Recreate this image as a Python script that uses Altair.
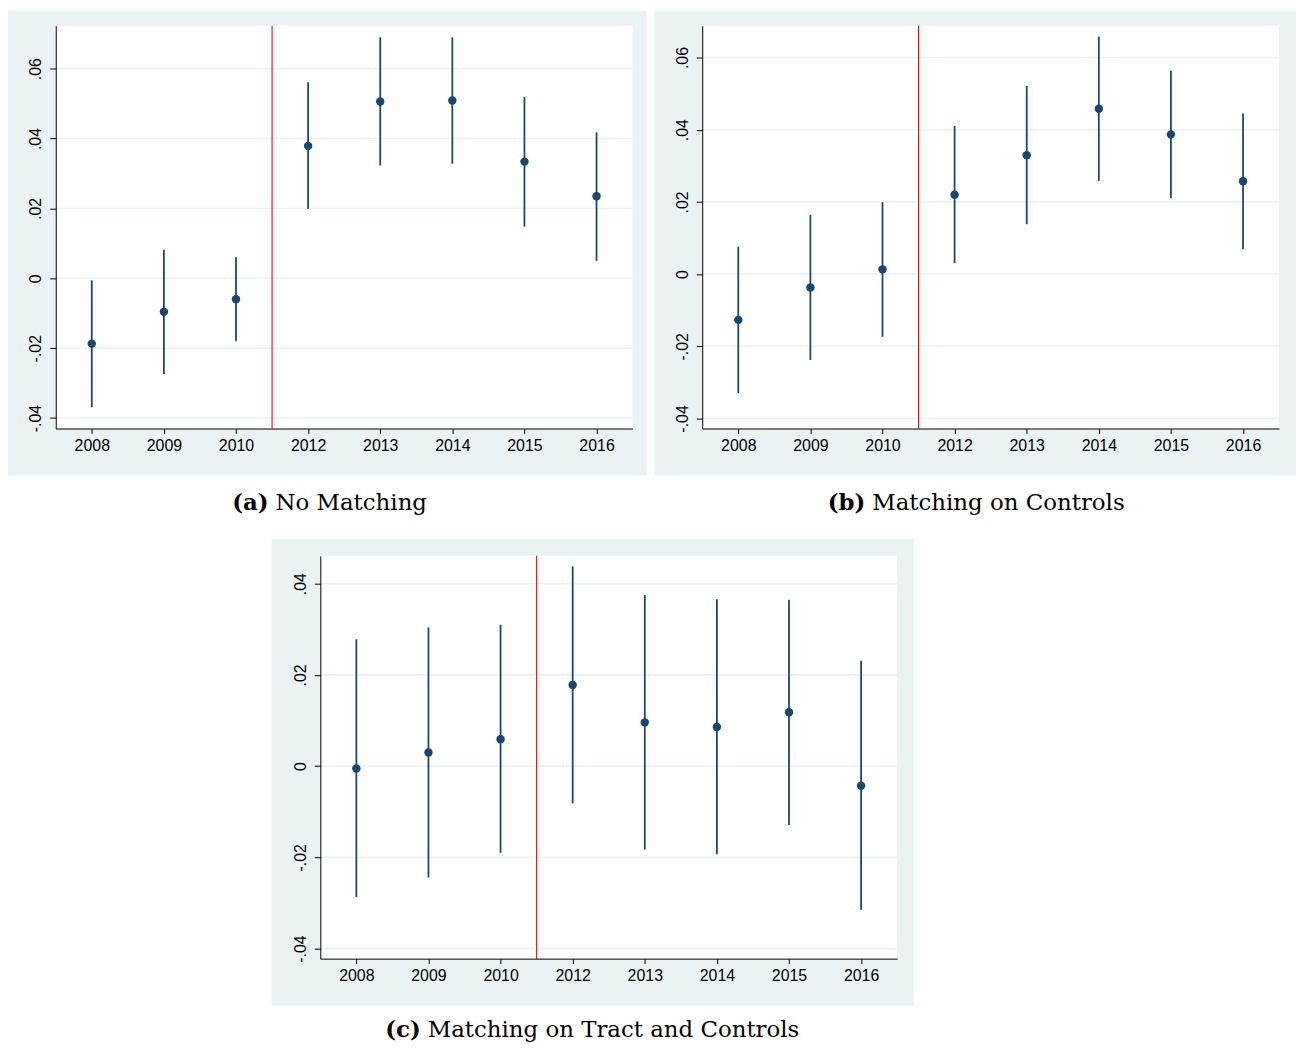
import altair as alt
import pandas as pd

# ---------------- data ----------------
years = ["2008", "2009", "2010", "2012", "2013", "2014", "2015", "2016"]
positions = list(range(1, len(years) + 1))
cutoff = [3.5]  # red reference line between 2010 and 2012

a_est = [-0.0187, -0.0096, -0.0060, 0.0379, 0.0506, 0.0509, 0.0334, 0.0235]
a_lo = [-0.0369, -0.0274, -0.0180, 0.0199, 0.0323, 0.0328, 0.0148, 0.0050]
a_hi = [-0.0006, 0.0082, 0.0060, 0.0561, 0.0690, 0.0690, 0.0519, 0.0418]

b_est = [-0.0127, -0.0037, 0.0013, 0.0220, 0.0329, 0.0458, 0.0387, 0.0257]
b_lo = [-0.0330, -0.0238, -0.0174, 0.0030, 0.0138, 0.0258, 0.0210, 0.0069]
b_hi = [0.0076, 0.0164, 0.0199, 0.0410, 0.0521, 0.0658, 0.0563, 0.0445]

c_est = [-0.0005, 0.0030, 0.0059, 0.0178, 0.0096, 0.0086, 0.0118, -0.0043]
c_lo = [-0.0287, -0.0244, -0.0190, -0.0082, -0.0183, -0.0193, -0.0129, -0.0315]
c_hi = [0.0278, 0.0304, 0.0310, 0.0438, 0.0375, 0.0366, 0.0365, 0.0231]

y_ticks_ab = [-0.04, -0.02, 0, 0.02, 0.04, 0.06]
y_ticks_c = [-0.04, -0.02, 0, 0.02, 0.04]
y_domain_a = [-0.0430, 0.0723]
y_domain_b = [-0.0428, 0.0688]
y_domain_c = [-0.0422, 0.0461]
x_domain = [0.5, 8.5]

tags = ["(a)", "(b)", "(c)"]
captions = ["No Matching", "Matching on Controls", "Matching on Tract and Controls"]

# ---------------- style ----------------
W, H = 580, 405
BG = "#EAF2F3"
GRID = "#EAF2F3"
NAVY = "#1A476F"
RED = "#FF0000"
SANS = "Liberation Sans"
SERIF = "DejaVu Serif"
CAP_SIZE = 23

one = pd.DataFrame({"k": [0]})
label_arr = "[" + ",".join("'" + y + "'" for y in years) + "]"
y_label_expr = ("datum.value == 0 ? '0' : (datum.value < 0 ? '-' : '') + "
                "replace(format(abs(datum.value), '.2f'), '0.', '.')")


def panel(est, lo, hi, ticks, ydom, tag, caption, cap_x, cap_y, margins):
    ml, mr, mt, mb = margins
    df = pd.DataFrame({"pos": positions, "year": years, "est": est, "lo": lo, "hi": hi})
    xs = alt.Scale(domain=x_domain, nice=False, zero=False)
    ys = alt.Scale(domain=ydom, nice=False, zero=False)
    xaxis = alt.Axis(values=positions, labelExpr=label_arr + "[datum.value-1]",
                     grid=False, title=None, domainColor="#000000", domainWidth=1,
                     tickColor="#000000", tickSize=5, tickWidth=1,
                     labelFont=SANS, labelFontSize=16, labelColor="#000000",
                     labelPadding=4, zindex=1)
    yaxis = alt.Axis(values=ticks, labelExpr=y_label_expr, grid=False, title=None,
                     domainColor="#000000", domainWidth=1, tickColor="#000000",
                     tickSize=6, tickWidth=1, labelFont=SANS, labelFontSize=16,
                     labelColor="#000000", labelAngle=270, labelAlign="center",
                     labelBaseline="bottom", labelPadding=6, zindex=1)

    bg = alt.Chart(one).mark_rect(color=BG).encode(
        x=alt.value(-ml), x2=alt.value(W + mr), y=alt.value(-mt), y2=alt.value(H + mb))
    white = alt.Chart(one).mark_rect(color="white").encode(
        x=alt.value(0), x2=alt.value(W), y=alt.value(0), y2=alt.value(H))
    grid = alt.Chart(pd.DataFrame({"t": ticks})).mark_rule(
        color=GRID, strokeWidth=1.6).encode(y=alt.Y("t:Q", scale=ys, axis=yaxis))
    red = alt.Chart(pd.DataFrame({"c": cutoff})).mark_rule(
        color=RED, strokeWidth=1.1).encode(x=alt.X("c:Q", scale=xs, axis=xaxis))
    bars = alt.Chart(df).mark_rule(color=NAVY, strokeWidth=1.8).encode(
        x=alt.X("pos:Q", scale=xs, axis=xaxis),
        y=alt.Y("lo:Q", scale=ys, axis=yaxis),
        y2="hi:Q")
    pts = alt.Chart(df).mark_circle(color=NAVY, size=72, opacity=1).encode(
        x=alt.X("pos:Q", scale=xs, axis=xaxis),
        y=alt.Y("est:Q", scale=ys, axis=yaxis))

    bold_x, text_x = cap_x
    t_bold = alt.Chart(one).mark_text(
        text=tag, font=SERIF, fontSize=CAP_SIZE, fontWeight="bold",
        align="right", baseline="alphabetic", color="#000000").encode(
        x=alt.value(bold_x), y=alt.value(cap_y))
    t_reg = alt.Chart(one).mark_text(
        text=caption, font=SERIF, fontSize=CAP_SIZE, fontWeight="normal",
        align="left", baseline="alphabetic", color="#000000").encode(
        x=alt.value(text_x), y=alt.value(cap_y))

    return alt.layer(bg, white, grid, red, bars, pts, t_bold, t_reg).properties(
        width=W, height=H)


pa = panel(a_est, a_lo, a_hi, y_ticks_ab, y_domain_a, tags[0], captions[0],
           (214, 221), 487, (48, 14, 15, 47))
pb = panel(b_est, b_lo, b_hi, y_ticks_ab, y_domain_b, tags[1], captions[1],
           (164, 171), 487, (48, 17, 15, 47))
pc = panel(c_est, c_lo, c_hi, y_ticks_c, y_domain_c, tags[2], captions[2],
           (101, 108), 484, (49, 17, 17, 47))

spacer = alt.Chart(one).mark_rect(opacity=0).encode(
    x=alt.value(0), x2=alt.value(217), y=alt.value(0), y2=alt.value(1)).properties(
    width=217, height=1)

top = alt.hconcat(pa, pb, spacing=8)
bottom = alt.hconcat(spacer, pc, spacing=0)
chart = alt.vconcat(top, bottom, spacing=24).properties(
    padding=0, background="white").configure_view(stroke=None)

chart.save("out.html", embed_options={"renderer": "svg", "actions": False})
